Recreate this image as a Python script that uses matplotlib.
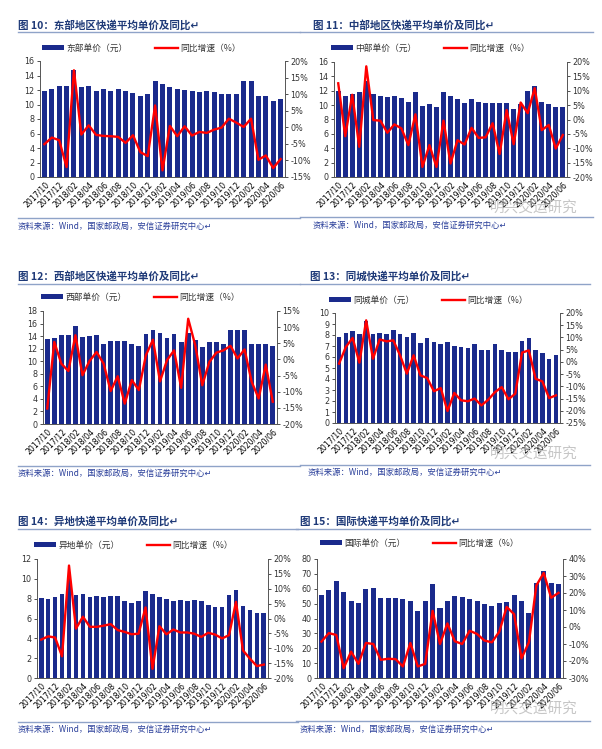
import matplotlib
matplotlib.use("Agg")
import matplotlib.pyplot as plt
from matplotlib.lines import Line2D
from matplotlib.ticker import FuncFormatter

plt.rcParams['font.family'] = ['Noto Sans CJK SC', 'DejaVu Sans']

# months 2017/10 .. 2020/06
months = []
for y, m0, m1 in [(2017, 10, 12), (2018, 1, 12), (2019, 1, 12), (2020, 1, 6)]:
    for m in range(m0, m1 + 1):
        months.append(f"{y}/{m:02d}")

# 东部
east_price = [11.9, 12.1, 12.5, 12.5, 14.7, 12.4, 12.6, 11.9, 12.2, 11.9, 12.1,
              11.8, 11.6, 11.2, 11.4, 13.3, 12.8, 12.4, 12.2, 12.0, 11.9, 11.7,
              11.8, 11.7, 11.5, 11.4, 11.5, 13.3, 13.2, 11.2, 11.2, 10.5, 10.7]
east_yoy = [-5.1, -3.1, -3.9, -12.0, 17.2, -2.2, 0.6, -2.3, -2.6, -2.7, -2.9,
            -4.7, -2.4, -7.5, -8.7, 6.6, -13.0, 0.4, -2.7, 0.3, -2.5, -1.4,
            -1.7, -0.7, -0.1, 2.6, 1.4, 0.1, 2.6, -9.8, -8.5, -12.3, -9.6]

# 中部
central_price = [12.0, 11.2, 11.6, 11.8, 13.4, 11.6, 11.3, 11.1, 11.2, 11.0, 10.5,
                 11.8, 9.9, 10.2, 9.7, 11.8, 11.3, 10.9, 10.3, 10.8, 10.4, 10.3,
                 10.3, 10.3, 10.3, 9.4, 10.2, 12.0, 12.6, 10.5, 10.1, 9.7, 9.8]
central_yoy = [12.6, -5.8, 8.6, -9.5, 18.5, -0.2, -0.4, -4.6, -1.7, -3.1, -8.9,
               1.8, -16.5, -8.9, -16.5, -0.4, -15.3, -7.2, -8.7, -2.9, -6.4, -6.2,
               -1.3, -12.0, 3.3, -8.6, 5.9, 2.2, 10.9, -3.7, -1.9, -10.1, -5.4]

# 西部
west_price = [13.6, 13.7, 14.1, 14.2, 15.6, 13.8, 14.0, 14.2, 12.8, 13.2, 13.2,
              13.2, 12.7, 12.4, 14.3, 15.0, 14.5, 13.7, 14.4, 13.0, 14.5, 13.4,
              12.3, 13.1, 13.0, 12.8, 14.9, 15.0, 14.9, 12.8, 12.7, 12.7, 12.5]
west_yoy = [-15.2, 5.4, -1.3, -3.6, 7.5, -4.9, -0.5, 2.3, -1.3, -9.8, -5.2,
            -13.7, -6.4, -9.5, 1.3, 6.1, -6.8, -0.2, 2.8, -8.8, 12.6, 4.4,
            -8.0, -0.8, 2.1, 2.8, 4.2, 0.3, 3.1, -6.9, -12.1, -1.6, -13.1]

# 同城
local_price = [7.8, 8.2, 8.4, 8.1, 9.3, 8.1, 8.2, 8.1, 8.5, 8.1, 7.8,
               8.2, 7.3, 7.7, 7.4, 7.2, 7.4, 7.0, 6.9, 6.8, 7.2, 6.6,
               6.6, 7.2, 6.6, 6.5, 6.5, 7.5, 7.7, 6.6, 6.4, 5.8, 6.2]
local_yoy = [-0.7, 6.1, 9.8, -0.3, 17.0, 1.3, 9.2, 8.4, 8.8, 2.7, -4.8,
             2.7, -5.5, -6.6, -12.0, -10.7, -20.1, -12.7, -15.7, -16.1, -15.0, -17.8,
             -15.5, -12.4, -10.3, -15.3, -13.0, 3.8, 4.7, -6.9, -8.0, -14.8, -13.7]

# 异地
intercity_price = [8.1, 8.0, 8.2, 8.5, 10.1, 8.4, 8.5, 8.2, 8.3, 8.2, 8.3,
                   8.3, 7.8, 7.6, 7.8, 8.8, 8.5, 8.2, 8.0, 7.8, 7.9, 7.8,
                   7.9, 7.8, 7.4, 7.2, 7.2, 8.4, 8.9, 7.3, 6.9, 6.6, 6.6]
intercity_yoy = [-7.1, -6.0, -6.4, -12.7, 17.8, -3.4, 0.6, -2.8, -2.8, -2.4, -1.9,
                 -3.9, -4.5, -5.3, -5.1, 3.7, -16.9, -2.6, -5.3, -3.7, -4.7, -4.7,
                 -5.1, -6.2, -4.8, -5.4, -6.7, -5.6, 5.6, -10.7, -13.5, -16.0, -15.5]

# 国际
intl_price = [56, 59, 65.5, 58, 52, 50.5, 59.5, 60.5, 54, 54, 53.5,
              53, 51.5, 45, 52, 63, 47, 51.5, 55, 54.5, 53, 52,
              49.5, 48.5, 50.5, 51, 55.5, 51.5, 43.5, 64, 72, 64, 63.5]
intl_yoy = [-8.6, -3.6, -4.7, -24.2, -14.5, -21.7, -9.4, -10.0, -19.3, -18.7, -18.9,
            -23.2, -9.4, -23.2, -21.7, 9.5, -10.0, 2.1, -8.4, -10.0, -2.2, -4.1,
            -8.0, -9.0, -2.8, 11.8, 7.5, -18.4, -9.0, 24.4, 31.8, 17.2, 20.1]

BAR_C = '#1a2a8c'
TITLE_C = '#1f3a78'
SRC_C = '#2a3f9a'
RULE_C = '#8fa3c8'
W, H = 602, 749

fig = plt.figure(figsize=(W / 100, H / 100), dpi=100)
fig.patch.set_facecolor('white')


def fx(x):
    return x / W


def fy(y):
    return 1 - y / H


def hline(x0, x1, y, color=RULE_C, lw=1.0):
    fig.add_artist(Line2D([fx(x0), fx(x1)], [fy(y), fy(y)], color=color, lw=lw,
                          transform=fig.transFigure))


def panel(box, price, yoy, bar_label, lticks, rticks, legend_xy):
    x0, y0, x1, y1 = box
    ax = fig.add_axes([fx(x0), fy(y1), fx(x1 - x0), (y1 - y0) / H])
    xs = list(range(len(months)))
    bars = ax.bar(xs, price, width=0.68, color=BAR_C, label=bar_label, zorder=2)
    ax.set_xlim(-0.6, len(months) - 0.4)
    ax.set_ylim(lticks[0], lticks[-1])
    ax.set_yticks(lticks)
    ax.set_xticks(xs[::2])
    ax.set_xticklabels(months[::2], rotation=45, ha='right', rotation_mode='anchor',
                       fontsize=5.6, family=['DejaVu Sans'])
    ax.tick_params(axis='y', labelsize=5.8, length=2.5, width=0.6, pad=1.5,
                   colors='#333333')
    ax.tick_params(axis='x', length=0, pad=2)
    for lab in ax.get_yticklabels():
        lab.set_family(['DejaVu Sans'])
    for s in ['top', 'right']:
        ax.spines[s].set_visible(False)
    for s in ['left', 'bottom']:
        ax.spines[s].set_color('#555555')
        ax.spines[s].set_linewidth(0.7)

    ax2 = ax.twinx()
    line, = ax2.plot(xs, yoy, color='#ff0000', lw=1.7, label='同比增速（%）', zorder=3)
    ax2.set_ylim(rticks[0], rticks[-1])
    ax2.set_yticks(rticks)
    ax2.yaxis.set_major_formatter(FuncFormatter(lambda v, p: f"{v:.0f}%"))
    ax2.tick_params(axis='y', labelsize=5.8, length=2.5, width=0.6, pad=1.5,
                    colors='#333333')
    for lab in ax2.get_yticklabels():
        lab.set_family(['DejaVu Sans'])
    for s in ['top', 'left', 'bottom']:
        ax2.spines[s].set_visible(False)
    ax2.spines['right'].set_color('#555555')
    ax2.spines['right'].set_linewidth(0.7)

    fig.legend([bars, line], [bar_label, '同比增速（%）'], loc='center',
               bbox_to_anchor=(fx(legend_xy[0]), fy(legend_xy[1])), ncol=2,
               frameon=False, fontsize=6.3, handlelength=2.6, handleheight=0.6,
               columnspacing=3.2, handletextpad=0.2, labelcolor='#333333')
    return ax


def header(x, y, text, rx0, rx1, ry):
    fig.text(fx(x), fy(y), text, fontsize=7.6, fontweight='bold', color=TITLE_C,
             va='center', ha='left')
    hline(rx0, rx1, ry)


def source(x, y, rx0, rx1, ry):
    hline(rx0, rx1, ry)
    fig.text(fx(x), fy(y), '资料来源：Wind，国家邮政局，安信证券研究中心↵', fontsize=6,
             color=SRC_C, va='center', ha='left')


def watermark(x, y):
    fig.text(fx(x), fy(y), '明兴交运研究', fontsize=10.5, color='#b8b8b8',
             alpha=0.8, va='center', ha='left')


# row 1
header(18, 25, '图 10：东部地区快递平均单价及同比↵', 18, 300, 32)
header(313, 25, '图 11：中部地区快递平均单价及同比↵', 300, 593, 32)
panel((40, 61, 285, 177), east_price, east_yoy, '东部单价（元）',
      list(range(0, 17, 2)), list(range(-15, 21, 5)), (141, 48))
panel((334, 62, 567, 177), central_price, central_yoy, '中部单价（元）',
      list(range(0, 17, 2)), list(range(-20, 21, 5)), (430, 48))
source(18, 226, 18, 300, 218)
source(313, 225, 300, 593, 217)
watermark(490, 209)

# row 2
header(18, 276, '图 12：西部地区快递平均单价及同比↵', 18, 300, 284)
header(310, 276, '图 13：同城快递平均单价及同比↵', 300, 590, 284)
panel((43, 311, 277, 424), west_price, west_yoy, '西部单价（元）',
      list(range(0, 19, 2)), list(range(-20, 16, 5)), (140, 297))
panel((335, 313, 560, 423), local_price, local_yoy, '同城单价（元）',
      list(range(0, 11, 1)), list(range(-25, 21, 5)), (428, 300))
source(18, 473, 18, 300, 466)
source(308, 472, 300, 590, 465)
watermark(490, 455)

# row 3
header(18, 521, '图 14：异地快递平均单价及同比↵', 18, 298, 529)
header(300, 521, '图 15：国际快递平均单价及同比↵', 296, 590, 529)
panel((37, 559, 268, 678), intercity_price, intercity_yoy, '异地单价（元）',
      list(range(0, 13, 2)), list(range(-20, 21, 5)), (133, 545))
panel((317, 559, 563, 678), intl_price, intl_yoy, '国际单价（元）',
      list(range(0, 81, 10)), list(range(-30, 41, 10)), (419, 543))
source(18, 729, 18, 298, 722)
source(300, 729, 296, 590, 721)
watermark(490, 710)

fig.savefig('out.png', dpi=100)
